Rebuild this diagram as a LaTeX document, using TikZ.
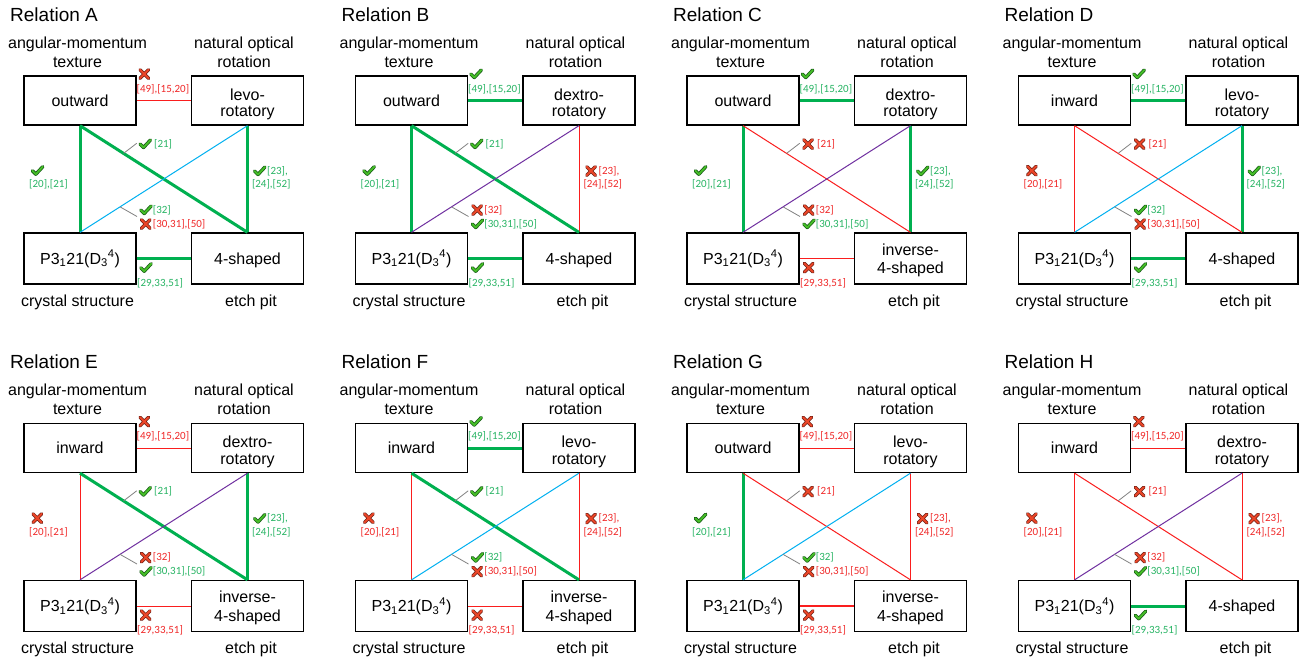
\documentclass[tikz,border=0pt]{standalone}
\usepackage{fontspec}
\setmainfont{Liberation Sans}
\newfontfamily\labfont{Carlito}
\usetikzlibrary{calc}

\definecolor{lgreen}{RGB}{0,176,80}
\definecolor{lred}{RGB}{250,30,30}
\definecolor{lblue}{RGB}{0,176,240}
\definecolor{lpurple}{RGB}{112,48,160}
\definecolor{tgreen}{RGB}{40,180,100}
\definecolor{tred}{RGB}{240,40,40}
\definecolor{okdark}{RGB}{20,90,20}
\definecolor{okfill}{RGB}{70,190,40}
\definecolor{nodark}{RGB}{110,30,20}
\definecolor{nofill}{RGB}{235,70,40}
\definecolor{leadgray}{RGB}{130,130,130}

\tikzset{
  boxT/.style={draw=black, line width=1.3pt, minimum width=112pt, minimum height=49pt, inner sep=0pt},
  boxB/.style={draw=black, line width=1.3pt, minimum width=112pt, minimum height=51pt, inner sep=0pt},
  ttl/.style={font=\fontsize{19}{22}\selectfont, anchor=base west, inner sep=0pt},
  hdr/.style={font=\fontsize{16}{19}\selectfont, anchor=base, inner sep=0pt},
  lab/.style={font=\labfont\fontsize{11}{13}\selectfont, inner sep=0pt},
  e-ok/.style={draw=lgreen, line width=3pt},
  e-no/.style={draw=lred, line width=1pt},
  e-nob/.style={draw=lred, line width=1.8pt},
  t-ok/.style={text=tgreen},
  t-no/.style={text=tred},
  t-nob/.style={text=tred},
  d2-levo/.style={draw=lblue, line width=1pt},
  d2-dextro/.style={draw=lpurple, line width=1pt},
  leader/.style={draw=leadgray, line width=0.8pt},
  m-ok/.pic={
    \draw[okdark, line width=3.4pt, line cap=round, line join=round] (-5,0) -- (-1.5,3.5) -- (5.5,-4);
    \draw[okfill, line width=1.9pt, line cap=round, line join=round] (-5,0) -- (-1.5,3.5) -- (5.5,-4);
  },
  m-no/.pic={
    \draw[nodark, line width=3.4pt, line cap=round] (-4.3,-4.3) -- (4.3,4.3) (-4.3,4.3) -- (4.3,-4.3);
    \draw[nofill, line width=2pt, line cap=round] (-4.3,-4.3) -- (4.3,4.3) (-4.3,4.3) -- (4.3,-4.3);
  },
  m-nob/.pic={
    \draw[nodark, line width=3.4pt, line cap=round] (-4.3,-4.3) -- (4.3,4.3) (-4.3,4.3) -- (4.3,-4.3);
    \draw[nofill, line width=2pt, line cap=round] (-4.3,-4.3) -- (4.3,4.3) (-4.3,4.3) -- (4.3,-4.3);
  },
  lab2-levo/.pic={
    \pic at (0,0) {m-ok};
    \node[lab, t-ok, anchor=west] (a) at (7,0) {[32]};
    \pic at (0,14) {m-no};
    \node[lab, t-no, anchor=west] (b) at (7,14) {[30,31],[50]};
  },
  lab2-dextro/.pic={
    \pic at (0,0) {m-no};
    \node[lab, t-no, anchor=west] (a) at (7,0) {[32]};
    \pic at (0,14) {m-ok};
    \node[lab, t-ok, anchor=west] (b) at (7,14) {[30,31],[50]};
  }
}

\newcommand\brfour{\node[hdr] (BRt) at (247.5,264) {4-shaped};}
\newcommand\brinv{\node[hdr] (BRa) at (247.5,255) {inverse-};
  \node[hdr] (BRb) at (247.5,273.5) {4-shaped};}

% #1 letter, #2 TL text, #3 levo/dextro, #4 BR text macro,
% #5 top, #6 left, #7 right, #8 bottom, #9 diagonal TL-BR
\newcommand\relpanel[9]{%
  \node[ttl] (ttl) at (10,21) {Relation #1};
  \node[hdr] (h1a) at (77.5,48) {angular-momentum};
  \node[hdr] (h1b) at (77.5,67) {texture};
  \node[hdr] (h2a) at (244,48) {natural optical};
  \node[hdr] (h2b) at (244,67) {rotation};
  \node[boxT] (TL) at (80,100.5) {};
  \node[boxT] (TR) at (247.5,100.5) {};
  \node[boxB] (BL) at (80,258.5) {};
  \node[boxB] (BR) at (247.5,258.5) {};
  \node[hdr] (TLt) at (80,106.3) {#2};
  \node[hdr] (TRa) at (247.5,100) {#3-};
  \node[hdr] (TRb) at (247.5,116.5) {rotatory};
  \node[hdr] (BLt) at (80,264) {P3\textsubscript{1}21(D\textsubscript{3}\textsuperscript{4})};
  #4
  \node[hdr] (f1) at (77.5,306) {crystal structure};
  \node[hdr] (f2) at (251,306) {etch pit};
  % top
  \draw[e-#5] (TL.east) -- (TR.west);
  \pic at (144.3,74) {m-#5};
  \node[lab, t-#5, anchor=west] (l5) at (136.5,89) {[49],[15,20]};
  % left
  \draw[e-#6] (TL.south) -- (BL.north);
  \pic at (37.3,170.7) {m-#6};
  \node[lab, t-#6] (l6) at (48.5,184.5) {[20],[21]};
  % right
  \draw[e-#7] (TR.south) -- (BR.north);
  \pic at (259.5,171) {m-#7};
  \node[lab, t-#7, anchor=west] (l7a) at (267,171) {[23],};
  \node[lab, t-#7] (l7b) at (271.3,184.3) {[24],[52]};
  % bottom
  \draw[e-#8] (BL.east) -- (BR.west);
  \pic at (145.7,267.7) {m-#8};
  \node[lab, t-#8, anchor=west] (l8) at (137,283) {[29,33,51]};
  % diagonals
  \draw[e-#9] (TL.south) -- (BR.north);
  \draw[d2-#3] (TR.south) -- (BL.north);
  \coordinate (p1) at ($(TL.south)!0.26!(BR.north)$);
  \coordinate (q1) at (136.7,143.3);
  \draw[leader] (p1) -- (q1);
  \pic at (145,144) {m-#9};
  \node[lab, t-#9, anchor=west] (l9) at (154,144) {[21]};
  \coordinate (p2) at ($(TR.south)!0.761!(BL.north)$);
  \coordinate (q2) at (137,216.5);
  \draw[leader] (p2) -- (q2);
  \pic (d2lab) at (145.7,210) {lab2-#3};
}

\begin{document}
\begin{tikzpicture}[x=1pt, y=-1pt]
\fill[white] (0,0) rectangle (1305,664);
\useasboundingbox (0,0) rectangle (1305,664);
\begin{scope}[shift={(0,0)}, name prefix=A-]
  \relpanel{A}{outward}{levo}{\brfour}{no}{ok}{ok}{ok}{ok}
\end{scope}
\begin{scope}[shift={(331.5,0)}, name prefix=B-]
  \relpanel{B}{outward}{dextro}{\brfour}{ok}{ok}{no}{ok}{ok}
\end{scope}
\begin{scope}[shift={(663,0)}, name prefix=C-]
  \relpanel{C}{outward}{dextro}{\brinv}{ok}{ok}{ok}{no}{no}
\end{scope}
\begin{scope}[shift={(994.5,0)}, name prefix=D-]
  \relpanel{D}{inward}{levo}{\brfour}{ok}{no}{ok}{ok}{no}
\end{scope}
\begin{scope}[shift={(0,347.5)}, name prefix=E-]
  \relpanel{E}{inward}{dextro}{\brinv}{no}{no}{ok}{no}{ok}
\end{scope}
\begin{scope}[shift={(331.5,347.5)}, name prefix=F-]
  \relpanel{F}{inward}{levo}{\brinv}{ok}{no}{no}{no}{ok}
\end{scope}
\begin{scope}[shift={(663,347.5)}, name prefix=G-]
  \relpanel{G}{outward}{levo}{\brinv}{no}{ok}{no}{nob}{no}
\end{scope}
\begin{scope}[shift={(994.5,347.5)}, name prefix=H-]
  \relpanel{H}{inward}{dextro}{\brfour}{no}{no}{no}{ok}{no}
\end{scope}
\end{tikzpicture}
\end{document}
